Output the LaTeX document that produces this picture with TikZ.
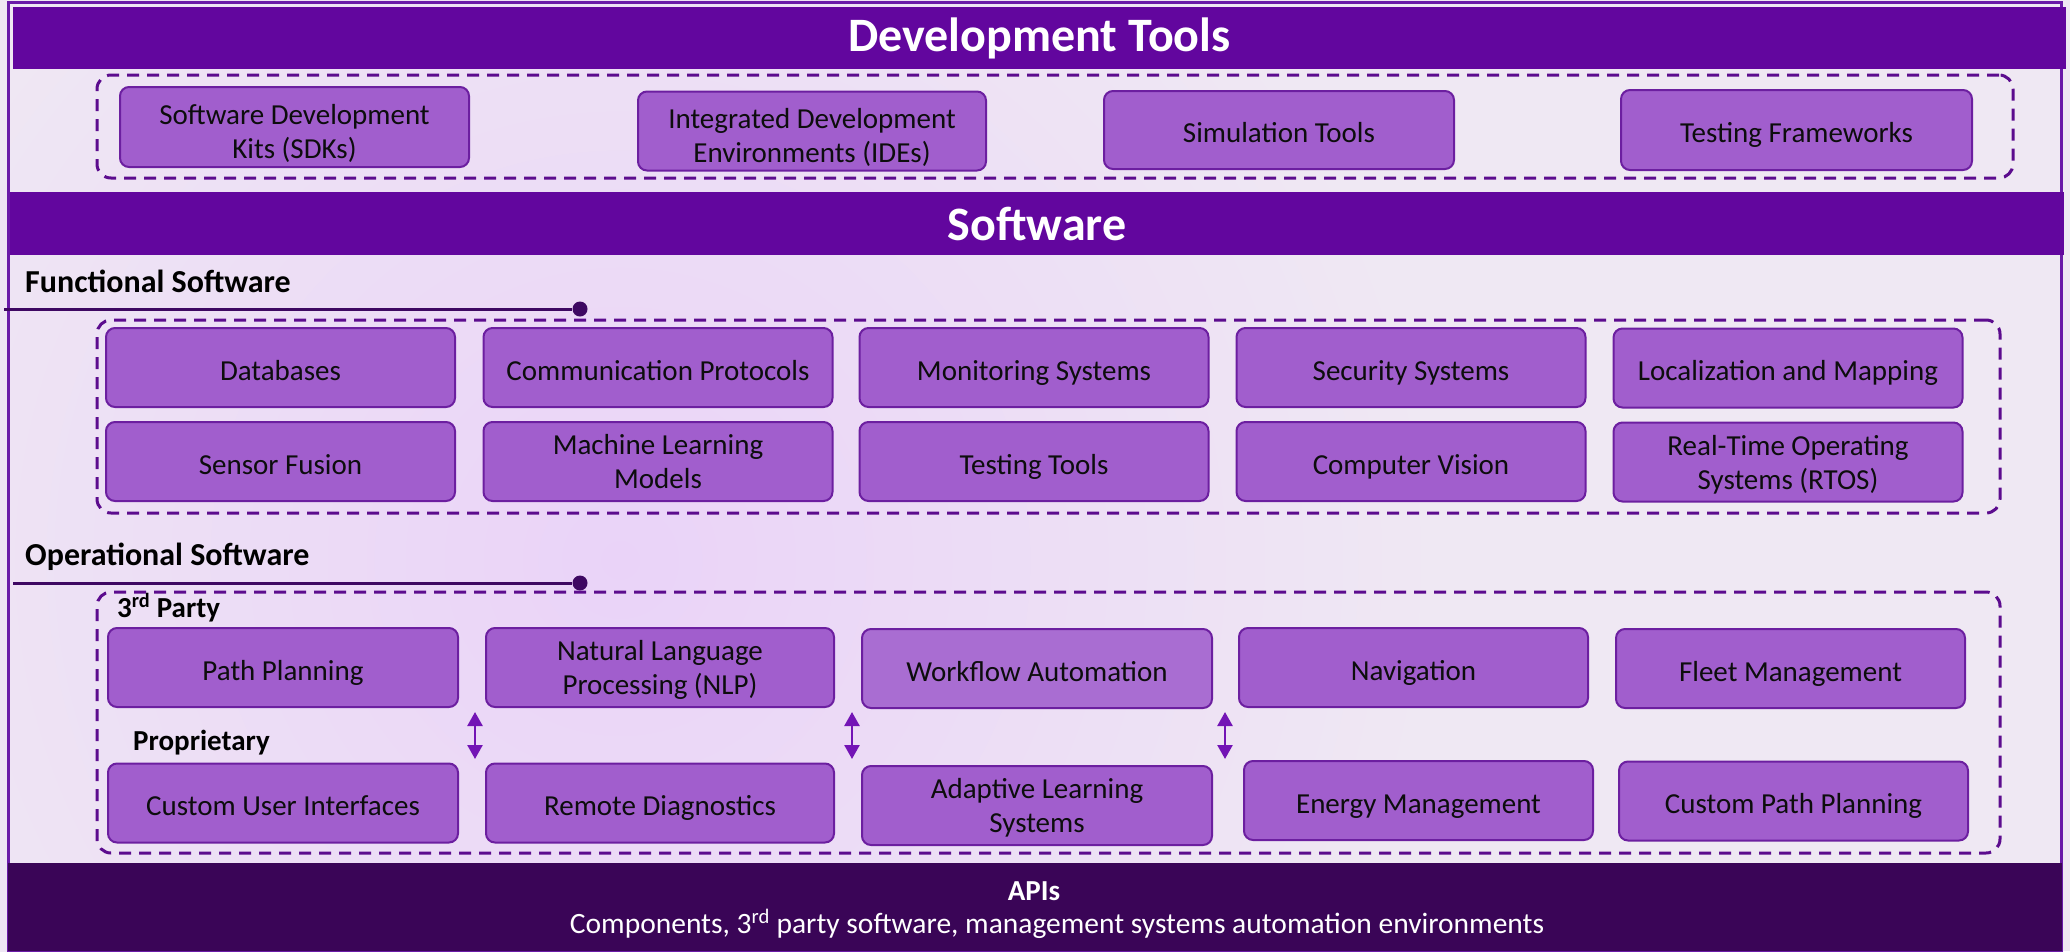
\documentclass[tikz,border=0pt]{standalone}
\usepackage{fontspec}
\setmainfont{Carlito}
\usetikzlibrary{arrows.meta}

\definecolor{bgc}{HTML}{EFE8F3}
\definecolor{glowc}{HTML}{EAD3F8}
\definecolor{framec}{HTML}{6A1AA8}
\definecolor{hdrc}{HTML}{62069E}
\definecolor{apic}{HTML}{3A0557}
\definecolor{boxfill}{HTML}{A15ECD}
\definecolor{boxfilllight}{HTML}{A96DD2}
\definecolor{boxedge}{HTML}{6C1FA0}
\definecolor{dashc}{HTML}{5C0C8E}
\definecolor{linec}{HTML}{3E0862}
\definecolor{arrowc}{HTML}{7314B5}

\tikzset{
  pbox/.style={draw=boxedge, fill=boxfill, line width=2pt, rounded corners=9pt,
    minimum width=349pt, minimum height=79pt, align=center, inner sep=2pt,
    text=black!95, font=\fontsize{29}{34}\selectfont,
    execute at begin node={\rule{0pt}{31pt}},
    execute at end node={\rule[-6pt]{0pt}{6pt}}},
  twoline/.style={execute at begin node={\rule{0pt}{60pt}}},
  twolinelow/.style={execute at begin node={\rule{0pt}{69pt}}},
  groupbox/.style={draw=dashc, line width=3pt, dash pattern=on 12pt off 8pt,
    rounded corners=14pt, inner sep=0pt},
  bandbar/.style={fill=hdrc, inner sep=0pt, text=white,
    font=\bfseries\fontsize{48}{50}\selectfont},
  heading/.style={anchor=base west, inner sep=0pt, text=black,
    font=\bfseries\fontsize{32}{34}\selectfont},
  subheading/.style={anchor=base west, inner sep=0pt, text=black,
    font=\bfseries\fontsize{29}{30}\selectfont},
  ruleline/.style={draw=linec, line width=3pt},
  ruledot/.style={circle, fill=linec, inner sep=0pt, minimum size=15pt},
  swaparrow/.style={draw=arrowc, line width=2.5pt,
    {Triangle[width=15pt,length=14pt]}-{Triangle[width=15pt,length=14pt]}},
}

\begin{document}
\begin{tikzpicture}[x=1pt,y=-1pt]
\useasboundingbox (0,0) rectangle (2070,951);

% soft lavender backdrop
\fill[bgc] (0,0) rectangle (2070,951);
\begin{scope}
  \clip (0,0) rectangle (2070,951);
  \shade[inner color=glowc, outer color=bgc] (620,560) circle (820);
\end{scope}

% outer frame
\draw[framec, line width=3pt] (8,2) rectangle (2061,951);

% ---------- Development Tools ----------
\node[bandbar, minimum width=2053pt, minimum height=62pt] (devhdr) at (1039.5,38) {Development Tools};
\node[groupbox, minimum width=1916pt, minimum height=103pt] (devgrp) at (1055,126.5) {};
\node[pbox, twolinelow, minimum height=80pt] (sdk) at (294.5,127) {Software Development\\Kits (SDKs)};
\node[pbox, twolinelow, minimum width=348pt, minimum height=78pt] (ide) at (812,131) {Integrated Development\\Environments (IDEs)};
\node[pbox, minimum width=350pt, minimum height=78pt] (sim) at (1279,130) {Simulation Tools};
\node[pbox, minimum width=351pt, minimum height=80pt] (tfw) at (1796.5,130) {Testing Frameworks};

% ---------- Software ----------
\node[bandbar, minimum width=2054pt, minimum height=63pt] (swhdr) at (1037,223.5) {Software};

% functional software
\node[heading] (fshead) at (25,292) {Functional Software};
\coordinate (fsstart) at (4,309);
\node[ruledot] (fsdot) at (580,309) {};
\draw[ruleline] (fsstart) -- (fsdot);

\node[groupbox, minimum width=1903pt, minimum height=193pt] (fsgrp) at (1048.5,416.5) {};
\node[pbox] (db)   at (280.5,367.5) {Databases};
\node[pbox] (comm) at (658,367.5)   {Communication Protocols};
\node[pbox] (mon)  at (1034,367.5)  {Monitoring Systems};
\node[pbox] (sec)  at (1411,367.5)  {Security Systems};
\node[pbox] (loc)  at (1788,368)    {Localization and Mapping};
\node[pbox] (sf)   at (280.5,461.5) {Sensor Fusion};
\node[pbox, twoline] (ml)   at (658,461.5)   {Machine Learning\\Models};
\node[pbox] (tt)   at (1034,461.5)  {Testing Tools};
\node[pbox] (cv)   at (1411,461.5)  {Computer Vision};
\node[pbox, twoline] (rtos) at (1788,462)    {Real-Time Operating\\Systems (RTOS)};

% operational software
\node[heading] (oshead) at (25,565) {Operational Software};
\coordinate (osstart) at (13,583);
\node[ruledot] (osdot) at (580,583) {};
\draw[ruleline] (osstart) -- (osdot);

\node[groupbox, minimum width=1903pt, minimum height=261pt] (osgrp) at (1048.5,722.5) {};
\node[subheading] (thirdp) at (117,617) {3\textsuperscript{rd} Party};
\node[subheading] (propr) at (133,750) {Proprietary};

\node[pbox, minimum width=350pt] (pp)   at (283,667.5)  {Path Planning};
\node[pbox, twoline, minimum width=348pt] (nlp)  at (660,667.5)  {Natural Language\\Processing (NLP)};
\node[pbox, minimum width=350pt, fill=boxfilllight] (wf) at (1037,668.5) {Workflow Automation};
\node[pbox] (nav)  at (1413.5,667.5) {Navigation};
\node[pbox] (fleet) at (1790.5,668.5) {Fleet Management};

\node[pbox, minimum width=350pt] (cui)  at (283,803)    {Custom User Interfaces};
\node[pbox, minimum width=348pt] (rd)   at (660,803)    {Remote Diagnostics};
\node[pbox, twoline, minimum width=350pt] (als)  at (1037,805.5) {Adaptive Learning\\Systems};
\node[pbox] (em)   at (1418.5,800.5) {Energy Management};
\node[pbox] (cpp)  at (1793.5,801)   {Custom Path Planning};

% exchange arrows between the two tiers
\coordinate (x1t) at (475,712);  \coordinate (x1b) at (475,759);
\coordinate (x2t) at (852,712);  \coordinate (x2b) at (852,759);
\coordinate (x3t) at (1225,712); \coordinate (x3b) at (1225,759);
\draw[swaparrow] (x1t) -- (x1b);
\draw[swaparrow] (x2t) -- (x2b);
\draw[swaparrow] (x3t) -- (x3b);

% ---------- APIs ----------
\fill[apic] (8,863) rectangle (2062,951);
\node[anchor=base, inner sep=0pt, text=white, font=\bfseries\fontsize{29}{30}\selectfont] (apis) at (1034,900) {APIs};
\node[anchor=base, inner sep=0pt, text=white, font=\fontsize{29.5}{32}\selectfont] (apisub) at (1057,933)
  {Components, 3\textsuperscript{rd} party software, management systems automation environments};
\end{tikzpicture}
\end{document}
